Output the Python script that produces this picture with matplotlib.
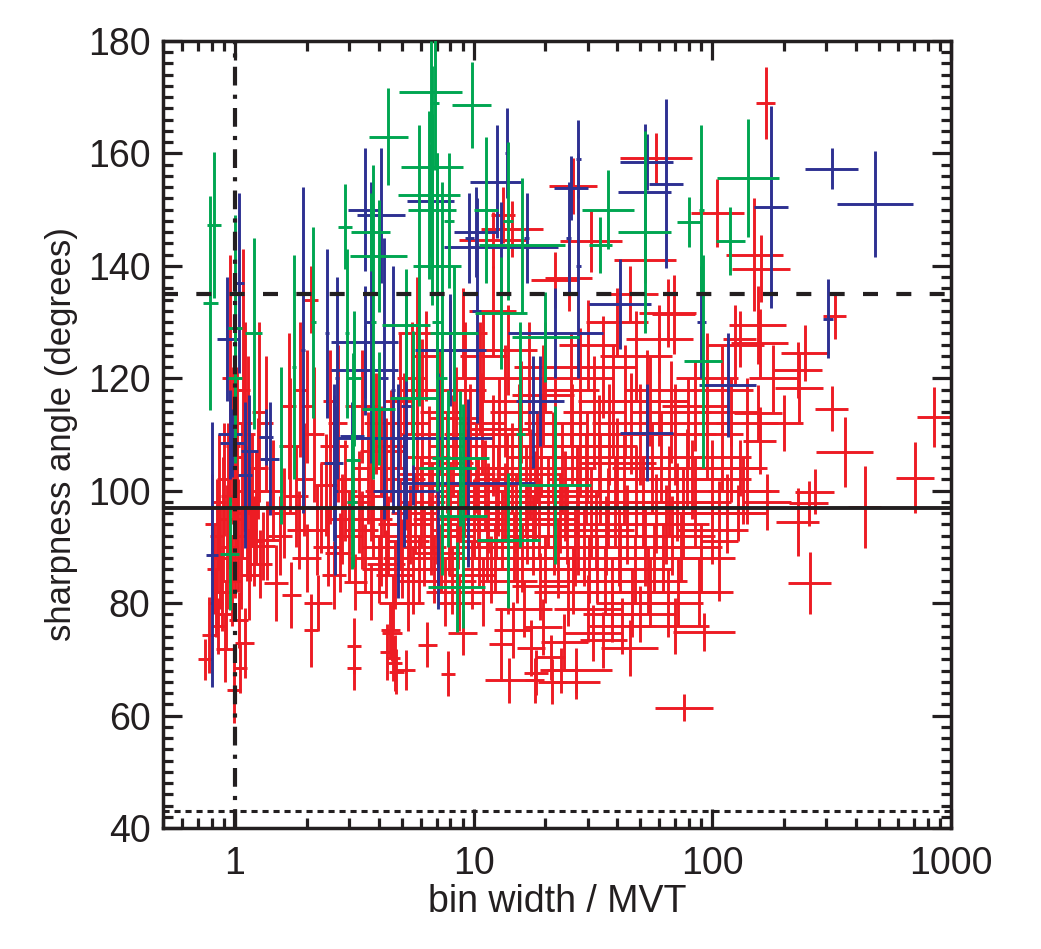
import numpy as np
import matplotlib
matplotlib.use('Agg')
import matplotlib.pyplot as plt
from matplotlib.ticker import LogLocator, MultipleLocator, FixedLocator, NullFormatter

plt.rcParams['font.family'] = ['Liberation Sans', 'DejaVu Sans']

# each row: (bin width / MVT, sharpness angle, half-width of x error in dex, y error in degrees)
red_points = [
    (0.75, 70, 0.03, 3.6), (0.78, 74.3, 0.03, 6.8), (0.99, 64.6, 0.03, 5.9), (1.05, 68.5, 0.03, 4.5),
    (1.10, 72.9, 0.04, 6.2), (0.91, 71.9, 0.04, 6), (1.04, 77, 0.04, 5), (0.82, 86, 0.03, 8),
    (0.84, 92, 0.03, 10), (0.86, 98, 0.03, 12), (0.80, 94, 0.03, 9), (0.88, 82, 0.04, 7),
    (0.90, 102, 0.03, 10), (0.93, 90, 0.04, 11), (0.95, 120, 0.03, 22), (0.97, 84, 0.04, 8),
    (1.00, 95, 0.04, 14), (1.02, 106, 0.03, 16), (1.06, 88, 0.04, 9), (1.08, 118, 0.03, 25),
    (1.10, 112, 0.03, 18), (1.12, 96, 0.04, 12), (1.15, 85, 0.04, 8), (1.18, 100, 0.04, 10),
    (1.20, 91, 0.04, 8), (1.25, 104, 0.04, 9), (1.28, 87, 0.05, 6), (0.92, 78, 0.04, 6),
    (0.83, 80, 0.03, 6), (0.87, 88, 0.03, 9), (0.89, 95, 0.03, 11), (0.94, 99, 0.03, 13),
    (0.98, 108, 0.03, 14), (1.03, 92, 0.03, 10), (1.07, 100, 0.03, 12), (1.13, 110, 0.03, 14),
    (1.16, 93, 0.03, 9), (1.22, 97, 0.04, 10), (1.26, 114, 0.03, 16), (0.85, 76, 0.03, 5),
    (1.31, 90.2, 0.05, 6), (1.36, 91.2, 0.05, 7), (1.49, 83.6, 0.05, 6.8), (1.72, 81.5, 0.04, 5.9),
    (2.08, 75.2, 0.03, 6.5), (2.23, 80, 0.06, 5), (1.45, 100, 0.05, 9), (1.6, 96, 0.05, 8),
    (1.7, 108, 0.04, 12), (1.85, 93, 0.05, 7), (1.95, 102, 0.04, 10), (2.0, 88, 0.06, 6),
    (2.15, 110, 0.04, 12), (2.3, 97, 0.05, 8), (2.45, 90, 0.06, 7), (2.5, 105, 0.04, 11),
    (2.6, 85, 0.05, 6), (2.7, 112, 0.04, 14), (2.8, 95, 0.06, 8), (2.9, 100, 0.05, 9),
    (2.08, 134, 0.03, 6), (1.35, 112, 0.03, 12), (1.69, 115, 0.03, 13), (1.88, 118, 0.03, 12),
    (2.0, 115, 0.03, 10), (2.5, 116, 0.03, 9), (1.55, 92, 0.05, 7), (1.8, 99, 0.05, 9),
    (2.2, 93, 0.05, 8), (2.4, 101, 0.05, 9), (2.75, 89, 0.06, 7),
    (3.2, 83.8, 0.05, 5), (3.0, 92, 0.06, 8), (3.3, 98, 0.05, 9), (3.5, 88, 0.07, 6),
    (3.6, 104, 0.06, 10), (3.8, 95, 0.08, 7), (3.9, 112, 0.05, 9), (4.0, 86, 0.07, 6),
    (4.2, 100, 0.08, 8), (4.4, 92, 0.07, 7), (4.5, 108, 0.06, 10), (4.6, 80, 0.06, 5),
    (4.8, 97, 0.09, 8), (4.9, 116, 0.06, 12), (4.35, 71.3, 0.03, 5), (4.6, 70.2, 0.03, 4),
    (4.75, 67.8, 0.03, 4), (5.2, 68.1, 0.04, 3.5), (4.55, 74.7, 0.04, 5), (4.7, 69.4, 0.03, 5),
    (4.48, 75.2, 0.04, 5), (3.16, 72.4, 0.03, 5), (3.16, 68.5, 0.03, 4),
    (3.1, 102, 0.06, 9), (3.4, 93, 0.07, 7), (3.7, 99, 0.07, 8), (4.1, 90, 0.08, 7),
    (4.3, 104, 0.08, 9), (4.7, 85, 0.08, 6), (4.9, 94, 0.09, 8),
    (5.0, 88, 0.08, 7), (5.2, 102, 0.08, 9), (5.4, 94, 0.09, 7), (5.6, 84, 0.07, 6),
    (5.8, 110, 0.08, 10), (6.0, 98, 0.1, 8), (6.2, 90, 0.09, 7), (6.4, 72.6, 0.04, 4),
    (6.5, 106, 0.09, 9), (6.8, 86, 0.1, 6), (7.0, 95, 0.1, 8), (7.2, 114, 0.08, 11),
    (7.4, 101, 0.1, 8), (7.6, 82, 0.08, 6), (7.8, 67.4, 0.03, 4), (7.9, 92, 0.1, 7),
    (8.2, 108, 0.1, 9), (8.5, 88, 0.1, 6), (8.8, 99, 0.11, 8), (9.0, 74.7, 0.06, 4),
    (9.2, 118, 0.09, 12), (9.5, 94, 0.11, 7), (9.8, 85, 0.1, 6), (5.5, 120, 0.06, 10),
    (6.3, 124, 0.06, 8), (8.0, 125, 0.08, 9),
    (5.3, 91, 0.09, 7), (5.9, 86, 0.1, 6), (6.1, 103, 0.1, 8), (6.7, 97, 0.11, 8),
    (7.1, 89, 0.1, 6), (7.7, 105, 0.11, 9), (8.1, 84, 0.1, 6), (8.6, 93, 0.11, 7),
    (9.1, 100, 0.12, 8), (9.7, 110, 0.11, 9),
    (10.2, 104, 0.12, 8), (10.5, 90, 0.12, 7), (10.8, 112, 0.1, 9), (11.0, 82, 0.1, 6),
    (11.5, 97, 0.12, 8), (12.0, 108, 0.11, 9), (12.3, 88, 0.12, 6), (12.6, 100, 0.12, 8),
    (13.0, 72.7, 0.05, 6.5), (13.2, 93, 0.13, 7), (13.6, 116, 0.1, 10), (14.1, 66.3, 0.1, 4),
    (14.0, 84, 0.12, 6), (14.5, 104, 0.13, 8), (14.6, 75.2, 0.08, 5), (15.0, 96, 0.13, 7),
    (15.5, 110, 0.12, 9), (16.0, 88, 0.13, 6), (16.5, 100, 0.14, 8), (17.0, 120, 0.1, 10),
    (17.4, 72, 0.06, 5), (17.8, 92, 0.13, 7), (18.2, 67.6, 0.05, 4), (18.5, 106, 0.13, 8),
    (19.0, 83, 0.12, 6), (19.6, 75.8, 0.08, 5), (11.0, 124, 0.1, 8), (13.3, 149, 0.05, 5),
    (14.5, 146.6, 0.13, 5), (12.0, 144.6, 0.14, 5), (18.0, 66.3, 0.04, 4),
    (10.4, 98, 0.13, 8), (11.4, 91, 0.13, 7), (12.4, 95, 0.13, 7), (13.8, 102, 0.14, 8),
    (15.2, 86, 0.13, 6), (16.8, 94, 0.14, 7), (18.0, 99, 0.14, 8), (19.2, 108, 0.14, 9),
    (20.5, 98, 0.14, 8), (21.0, 70.4, 0.06, 4), (21.4, 66, 0.06, 4), (22.0, 112, 0.13, 9),
    (22.5, 88, 0.14, 7), (23.2, 68.1, 0.06, 4), (23.5, 104, 0.14, 8), (24.0, 73.1, 0.1, 5),
    (24.5, 94, 0.15, 7), (25.5, 118, 0.12, 10), (26.0, 84, 0.14, 6), (26.8, 68.1, 0.15, 4),
    (26.8, 66, 0.1, 3), (27.0, 100, 0.15, 8), (28.0, 108, 0.14, 9), (29.0, 90, 0.15, 7),
    (30.0, 79, 0.14, 6), (31.0, 96, 0.16, 8), (31.5, 74.7, 0.12, 5), (32.0, 114, 0.13, 10),
    (33.0, 86, 0.15, 6), (34.0, 102, 0.16, 8), (35.0, 73.5, 0.1, 5), (36.0, 92, 0.15, 7),
    (37.0, 110, 0.15, 9), (38.0, 82, 0.14, 6), (39.0, 98, 0.16, 8), (26.0, 154.2, 0.1, 5),
    (31.0, 144.4, 0.13, 5.5), (25.0, 137.9, 0.1, 6), (30.0, 126, 0.12, 8), (35.0, 122, 0.14, 9),
    (21.8, 92, 0.15, 7), (24.2, 99, 0.15, 8), (26.5, 90, 0.15, 7), (29.8, 106, 0.16, 8),
    (32.5, 93, 0.16, 7), (35.5, 84, 0.15, 6),
    (40.0, 105, 0.16, 8), (41.0, 88, 0.15, 6), (43.0, 116, 0.14, 10), (44.0, 94, 0.17, 7),
    (46.0, 80, 0.15, 6), (48.0, 100, 0.17, 8), (50.0, 110, 0.16, 9), (52.0, 90, 0.17, 7),
    (54.0, 84, 0.16, 6), (56.0, 104, 0.17, 8), (58.0, 96, 0.18, 7), (60.0, 118, 0.15, 10),
    (62.0, 88, 0.17, 6), (65.0, 131.6, 0.12, 6), (66.0, 100, 0.18, 8), (68.0, 92, 0.18, 7),
    (70.0, 110, 0.17, 9), (72.0, 82, 0.16, 6), (75.0, 96, 0.18, 8), (78.0, 104, 0.17, 7),
    (58.0, 159.2, 0.15, 4.4), (52.0, 141, 0.13, 4), (69.0, 131.4, 0.09, 7), (48.0, 124, 0.15, 8),
    (55.0, 116, 0.16, 8), (45.0, 72, 0.12, 5), (42.0, 76, 0.14, 5),
    (2.6, 108, 0.06, 9), (3.4, 115, 0.07, 10), (3.7, 82, 0.06, 5), (4.1, 107, 0.09, 8),
    (4.3, 87, 0.08, 6), (5.1, 112, 0.1, 9), (5.3, 80, 0.07, 5), (5.7, 96, 0.1, 7),
    (6.1, 118, 0.09, 9), (6.6, 92, 0.11, 7), (7.1, 104, 0.11, 8), (7.3, 88, 0.1, 6),
    (8.0, 97, 0.12, 8), (8.4, 113, 0.11, 9), (8.7, 80, 0.09, 5), (9.3, 103, 0.12, 8),
    (10.0, 95, 0.13, 7), (10.6, 120, 0.11, 10), (11.2, 101, 0.13, 8), (11.8, 86, 0.12, 6),
    (12.8, 111, 0.13, 9), (13.5, 98, 0.14, 7), (14.8, 90, 0.14, 6), (15.8, 114, 0.13, 9),
    (16.2, 79, 0.12, 5), (17.2, 103, 0.14, 8), (18.8, 95, 0.15, 7), (19.5, 117, 0.13, 9),
    (20.0, 86, 0.14, 6), (21.5, 106, 0.15, 8), (23.0, 96, 0.15, 7), (24.8, 82, 0.14, 6),
    (25.8, 110, 0.15, 9), (27.5, 92, 0.16, 7), (29.5, 102, 0.16, 8), (30.5, 86, 0.15, 6),
    (33.5, 108, 0.16, 9), (36.5, 97, 0.17, 7), (38.5, 116, 0.15, 10), (40.5, 90, 0.16, 7),
    (42.5, 102, 0.17, 8), (45.5, 112, 0.16, 9), (47.5, 86, 0.16, 6), (51.0, 98, 0.18, 8),
    (53.5, 116, 0.16, 9), (57.0, 88, 0.17, 6), (61.0, 106, 0.18, 8), (64.0, 94, 0.18, 7),
    (67.0, 114, 0.17, 9), (71.0, 98, 0.18, 7), (74.0, 90, 0.17, 6), (79.0, 112, 0.16, 8),
    (82.0, 102, 0.17, 7), (14.0, 125, 0.12, 8), (20.0, 122, 0.13, 8), (28.0, 120, 0.14, 9),
    (9.0, 128, 0.1, 8), (5.8, 128, 0.08, 10), (12.0, 132, 0.1, 8), (40.0, 130, 0.13, 6),
    (45.0, 135, 0.12, 5), (22.0, 137.5, 0.1, 5), (60.0, 127, 0.14, 6),
    (50.0, 78, 0.15, 5), (55.0, 82, 0.16, 6), (38.0, 78, 0.12, 5),
    (85.0, 115, 0.14, 8), (95.0, 120, 0.13, 8), (110.0, 106, 0.12, 6), (120.0, 114, 0.12, 6),
    (128.0, 96, 0.12, 5), (140.0, 100, 0.1, 6), (100.0, 93, 0.15, 6), (88.0, 82, 0.14, 6),
    (65.0, 80, 0.15, 6), (70.0, 76, 0.14, 5),
    (76.0, 61.4, 0.12, 2.4), (92.5, 74.9, 0.13, 3.4), (85.0, 98, 0.15, 8), (90.0, 88, 0.14, 6),
    (95.0, 110, 0.15, 8), (100.0, 102, 0.16, 7), (107.0, 91, 0.08, 10.7), (105.0, 149.4, 0.11, 6),
    (110.0, 118, 0.13, 8), (115.0, 96, 0.14, 7), (120.0, 104, 0.15, 6), (125.0, 126, 0.12, 7),
    (130.0, 127, 0.07, 5), (135.0, 100, 0.15, 6), (140.0, 112, 0.13, 8), (150.0, 142, 0.12, 10),
    (155.0, 129.5, 0.12, 7), (158.0, 126.3, 0.12, 6), (158.0, 108.9, 0.07, 6), (155.0, 113.8, 0.1, 5),
    (160.0, 139.5, 0.12, 6), (167.0, 169, 0.04, 6.4), (170.0, 98, 0.1, 5), (180.0, 120, 0.1, 6),
    (228.0, 94.4, 0.09, 6), (229.0, 121.5, 0.1, 5), (230.0, 118.3, 0.1, 6), (244.0, 124.5, 0.1, 5),
    (253.0, 97.8, 0.08, 4), (256.0, 83.6, 0.09, 5.5), (268.0, 99.8, 0.08, 4), (316.0, 114.6, 0.07, 4),
    (325.0, 131, 0.05, 4), (359.0, 106.9, 0.12, 6.3), (435.0, 97.1, 0.07, 7.3), (706.0, 102.3, 0.08, 6.3),
    (849.0, 113.1, 0.07, 5.3), (200.0, 112, 0.08, 5), (130.0, 104, 0.1, 5),
]

blue_points = [
    (0.8, 88.6, 0.025, 23.6), (0.93, 127, 0.045, 11), (1.04, 137, 0.02, 16), (0.95, 110, 0.05, 8),
    (0.97, 108.5, 0.05, 6), (1.1, 102.8, 0.03, 13), (1.15, 107, 0.035, 10), (1.4, 105.7, 0.04, 10),
    (1.35, 109.6, 0.03, 5), (1.93, 125, 0.01, 29), (2.43, 128, 0.01, 15), (2.6, 105, 0.04, 14),
    (2.68, 120, 0.01, 18), (3.1, 109.7, 0.05, 6), (3.5, 150, 0.07, 11), (4.1, 149, 0.1, 12),
    (3.7, 130, 0.02, 25), (4.2, 120, 0.02, 25), (4.6, 118, 0.01, 22), (5.2, 115, 0.02, 20),
    (6.6, 151.6, 0.1, 10), (5.6, 109.4, 0.33, 12), (9.5, 101.4, 0.28, 15), (5.1, 100, 0.13, 10),
    (7.1, 100, 0.015, 21), (4.8, 100, 0.01, 19), (12.5, 155, 0.11, 10), (13.8, 160, 0.01, 8),
    (16.7, 145, 0.01, 8), (25.6, 153.9, 0.07, 5.7), (27.5, 159, 0.01, 7), (27.5, 140, 0.01, 20),
    (25.0, 145, 0.01, 10), (41.0, 133.2, 0.13, 8), (53.0, 158.5, 0.11, 5), (64.0, 154.6, 0.07, 15),
    (52.0, 153.2, 0.11, 12), (53.0, 110.3, 0.11, 8.6), (116.0, 118.8, 0.12, 9.3), (176.0, 150.5, 0.07, 18),
    (305.0, 130.6, 0.02, 7), (316.0, 157.3, 0.11, 3.6), (480.0, 151, 0.16, 9.4), (90.0, 130, 0.02, 10),
    (9.6, 145, 0.02, 8), (10.3, 132, 0.02, 20), (13.0, 143.4, 0.24, 8), (10.2, 146, 0.09, 8),
    (3.5, 126.5, 0.14, 10), (3.5, 121.5, 0.14, 8), (19.0, 116, 0.1, 8), (17.7, 114, 0.02, 10),
    (2.63, 100, 0.01, 15), (8.0, 125, 0.15, 10), (22.0, 128, 0.2, 8),
]

green_points = [
    (0.82, 147.3, 0.03, 13), (0.79, 133.4, 0.03, 19), (0.95, 88.8, 0.04, 10), (1.0, 129, 0.03, 20),
    (1.0, 120, 0.03, 15), (1.2, 128, 0.035, 17), (1.56, 108, 0.01, 14), (1.77, 122, 0.01, 20),
    (2.13, 130, 0.01, 17), (2.9, 147, 0.03, 7.6), (2.95, 128, 0.01, 15), (3.16, 120, 0.03, 12),
    (3.13, 105.5, 0.03, 19), (3.1, 98, 0.02, 12), (3.7, 146, 0.08, 7), (3.8, 130, 0.01, 28),
    (4.0, 141.8, 0.12, 10), (4.4, 163, 0.08, 8.7), (5.9, 140, 0.01, 25), (6.6, 171, 0.13, 9),
    (6.86, 169, 0.02, 12), (6.7, 157.6, 0.13, 18), (6.7, 150, 0.1, 17), (7.0, 140, 0.1, 20),
    (6.5, 152.6, 0.13, 15), (7.0, 130, 0.02, 30), (7.4, 120, 0.02, 35), (7.9, 148, 0.02, 12),
    (9.8, 168.6, 0.08, 7.6), (11.3, 150, 0.05, 13), (13.9, 148, 0.02, 14), (16.0, 143.7, 0.18, 12),
    (36.5, 150, 0.11, 7), (52.0, 146, 0.11, 18), (80.0, 147.8, 0.05, 4.4), (90.0, 150, 0.01, 15),
    (91.5, 123, 0.08, 19), (119.0, 144.4, 0.06, 6), (141.0, 155.7, 0.13, 10.5), (34.0, 143.7, 0.05, 5),
    (8.8, 105.8, 0.12, 12), (7.8, 104, 0.12, 14), (9.0, 95.5, 0.1, 20), (14.0, 91.2, 0.13, 12),
    (8.5, 82.9, 0.12, 8), (22.0, 101, 0.15, 14), (20.0, 127.4, 0.14, 8), (4.0, 114.6, 0.07, 10),
    (5.6, 116.5, 0.1, 12), (13.0, 131.6, 0.11, 10), (8.3, 128, 0.1, 12), (5.2, 129.5, 0.1, 10),
    (15.7, 110, 0.02, 20),
]

RED = '#ED1C24'
BLUE = '#2E3192'
GREEN = '#00A651'
INK = '#231F20'

fig = plt.figure(figsize=(10.41, 9.49), dpi=100)
ax = fig.add_axes([0.1566, 0.1275, 0.757, 0.8293])


def draw(points, color, z):
    a = np.array(points, dtype=float)
    x, y, d, ye = a.T
    xlo = x - x / 10 ** d
    xhi = x * 10 ** d - x
    ax.errorbar(x, y, xerr=[xlo, xhi], yerr=ye, fmt='none', ecolor=color,
                elinewidth=2.1, capsize=0, zorder=z)


draw(red_points, RED, 2)
draw(blue_points, BLUE, 3)
draw(green_points, GREEN, 4)

# reference lines
ax.axhline(97, color=INK, lw=2.8, zorder=6)
ax.axhline(135, color=INK, lw=3.0, ls=(0, (3.6, 4.4)), zorder=6)
ax.axhline(43, color=INK, lw=2.2, ls=(0, (2.0, 1.6)), zorder=6)
ax.axvline(1, color=INK, lw=3.0, ls=(0, (4.5, 2.2, 1.0, 2.2)), zorder=6)

ax.set_xscale('log')
ax.set_xlim(0.5, 1000)
ax.set_ylim(40, 180)

ax.xaxis.set_major_locator(FixedLocator([1, 10, 100, 1000]))
ax.xaxis.set_minor_locator(LogLocator(base=10, subs=np.arange(2, 10), numticks=20))
ax.xaxis.set_minor_formatter(NullFormatter())
ax.set_xticklabels(['1', '10', '100', '1000'])
ax.yaxis.set_major_locator(MultipleLocator(20))
ax.yaxis.set_minor_locator(MultipleLocator(2))

ax.tick_params(which='both', direction='in', top=True, right=True, width=2.3, color=INK)
ax.tick_params(which='major', length=14)
ax.tick_params(which='minor', length=7.5)
ax.tick_params(axis='x', which='major', labelsize=27, pad=13, labelcolor=INK)
ax.tick_params(axis='y', which='major', labelsize=27, pad=9, labelcolor=INK)
for sp in ax.spines.values():
    sp.set_linewidth(2.5)
    sp.set_color(INK)

ax.set_xlabel('bin width / MVT', fontsize=27, color=INK)
ax.set_ylabel('sharpness angle (degrees)', fontsize=25, color=INK)
ax.xaxis.set_label_coords(0.5, -0.071)
ax.yaxis.set_label_coords(-0.108, 0.5)

fig.savefig('out.png', dpi=100)
